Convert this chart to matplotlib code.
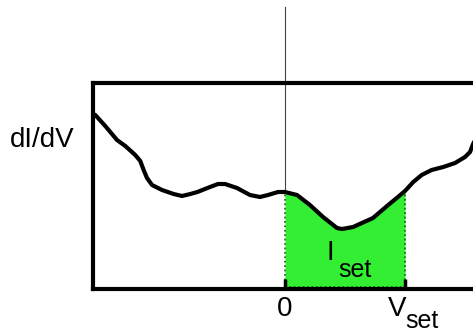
import matplotlib
matplotlib.use("Agg")
import matplotlib.pyplot as plt
import numpy as np

# curve (bias in units of V_set, dI/dV in arbitrary units)
bias = [-1.6, -1.581, -1.498, -1.4, -1.331, -1.248, -1.206, -1.178, -1.15,
        -1.108, -1.025, -0.928, -0.858, -0.789, -0.73, -0.625, -0.558, -0.5,
        -0.4, -0.292, -0.208, -0.142, -0.058, 0.0, 0.1, 0.208, 0.317, 0.433,
        0.475, 0.567, 0.733, 0.85, 0.931, 1.0, 1.069, 1.139, 1.222, 1.319,
        1.417, 1.5, 1.542, 1.564, 1.6]
didv = [1.75, 1.74, 1.63, 1.49, 1.43, 1.34, 1.28, 1.19, 1.11,
        1.04, 0.99, 0.95, 0.93, 0.95, 0.97, 1.02, 1.05, 1.05,
        1.01, 0.94, 0.92, 0.94, 0.97, 0.97, 0.94, 0.84, 0.72, 0.61,
        0.60, 0.62, 0.71, 0.83, 0.91, 0.98, 1.07, 1.14, 1.19, 1.22,
        1.26, 1.32, 1.37, 1.44, 1.54]
v_set = 1.0

x = np.array(bias)
y = np.array(didv)

plt.rcParams['font.family'] = ['Liberation Sans', 'DejaVu Sans']

W, H = 473, 333
fig = plt.figure(figsize=(W / 100, H / 100), dpi=100)
ax = fig.add_axes([93 / W, 44 / H, 384 / W, 206 / H])
ax.set_xlim(-1.6, 1.6)
ax.set_ylim(0, 2.06)

green = '#33ee33'
inside = (x >= 0) & (x <= v_set)
ax.fill_between(x, 0, y, where=inside, color=green, lw=0, zorder=1)
# dotted outline of the shaded area
y_at_set = y[x == v_set][0]
y_at_0 = y[x == 0][0]
dk = '#1a5a1a'
ax.plot([0, 0], [0, y_at_0], ls=':', color=dk, lw=1.2, zorder=2)
ax.plot([v_set, v_set], [0, y_at_set], ls=':', color=dk, lw=1.2, zorder=2)
ax.plot([0, v_set], [0.025, 0.025], ls=':', color=dk, lw=1.2, zorder=2)

ax.plot(x, y, color='black', lw=3, solid_capstyle='round',
        solid_joinstyle='round', zorder=3)

# thin zero-bias line running above the frame
ax.plot([0, 0], [y_at_0, 2.82], color='#444444', lw=0.8, clip_on=False, zorder=2)

for s in ax.spines.values():
    s.set_linewidth(3)
ax.set_axisbelow(False)
ax.set_xticks([0, v_set])
ax.set_xticklabels([])
ax.set_yticks([])
ax.tick_params(axis='x', direction='in', length=7, width=2.5, color='black')

def px(xp, yp):
    return xp / W, 1 - yp / H

fig.text(*px(10, 147), 'dI/dV', ha='left', va='baseline', fontsize=20)
fig.text(*px(285, 316), '0', ha='center', va='baseline', fontsize=20)
fig.text(*px(388, 316), 'V', ha='left', va='baseline', fontsize=20)
fig.text(*px(405, 328), 'set', ha='left', va='baseline', fontsize=18)
fig.text(*px(326, 260), 'I', ha='left', va='baseline', fontsize=20)
fig.text(*px(338, 277), 'set', ha='left', va='baseline', fontsize=18)

fig.savefig('out.png', dpi=100)
